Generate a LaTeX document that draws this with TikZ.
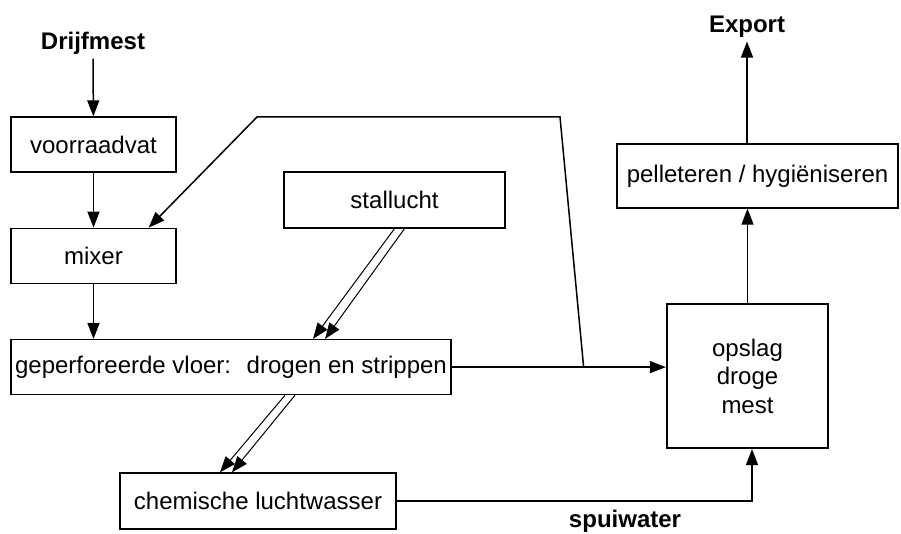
\documentclass[tikz,border=0pt]{standalone}
\usepackage{fontspec}
\setmainfont{Liberation Sans}
\usetikzlibrary{positioning}
\usetikzlibrary{arrows.meta,calc}

\begin{document}
\begin{tikzpicture}[x=1pt,y=-1pt,
    >={Triangle[length=16pt,width=12pt]},
    font=\fontsize{24}{28.5}\selectfont,
    basic/.style={draw,line width=1.3pt,inner sep=0pt,align=center},
    unit/.style={basic,rectangle,minimum height=55pt},
    store/.style={basic,rectangle,line width=2.2pt},
    label/.style={font=\fontsize{24}{28.5}\selectfont\bfseries,anchor=base},
    flow/.style={draw,line width=1.5pt,->},
    twin/.style={flow,line width=1pt},
]
\useasboundingbox (0,0) rectangle (901,534);
        \node[label] (drijf) at (93,50) {Drijfmest};
        \node[unit,minimum width=165pt] (voorraad) at (93.5,144.5) {voorraadvat};
        \node[unit,minimum width=165pt,below=55pt of voorraad] (mixer) {mixer};
        \node[unit,minimum width=440pt,below right=55pt and 0pt of mixer.south west] (vloer) {geperforeerde vloer:~ drogen en strippen};
        \node[unit,minimum width=221pt,minimum height=56pt] (stal) at (394.5,200) {stallucht};
        \node[unit,minimum width=276pt,minimum height=56pt] (wasser) at (258,501) {chemische luchtwasser};
        \node[store,minimum width=161pt,minimum height=144pt] (opslag) at (747.5,376) {opslag\\droge\\mest};
        \node[unit,minimum width=281pt,minimum height=64pt] (pellet) at (757.5,176) {pelleteren / hygiëniseren};
        \node[label] (export) at (747,33) {Export};
        \node[label] (spui) at (625,527) {spuiwater};
%            main line
            \path[flow] (drijf) -- (voorraad);
            \path[flow] (voorraad) -- (mixer);
            \path[flow] (mixer) -- (mixer |- vloer.north);
            \path[flow] (vloer.east) -- (vloer.east -| opslag.west);
            \path[flow] (opslag) -- (opslag |- pellet.south);
            \path[flow] (pellet.north -| export.south) -- (export.south);
%            return to mixer
        \coordinate (split) at ($(vloer.east)!0.616!(vloer.east -| opslag.west)$);
        \coordinate (topright) at (560,117);
        \coordinate (topleft) at (257,117);
            \path[flow] (split) -- (topright) -- (topleft) -- ([xshift=-28pt]mixer.north east);
%            air
            \path[twin] (stal.south) -- ([xshift=82pt]vloer.north);
            \path[twin] ([xshift=10pt]stal.south) -- ([xshift=94pt]vloer.north);
            \path[twin] ([xshift=54pt]vloer.south) -- ([xshift=-38pt]wasser.north);
            \path[twin] ([xshift=64pt]vloer.south) -- ([xshift=-26pt]wasser.north);
            \path[flow] (wasser.east) -| ([xshift=4.5pt]opslag.south);
    \end{tikzpicture}
\end{document}
